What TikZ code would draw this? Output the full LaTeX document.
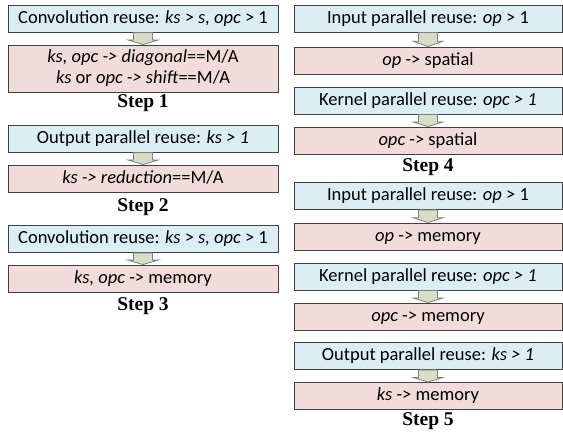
\documentclass[tikz,border=0pt]{standalone}
\usepackage{fontspec}
\setmainfont{Carlito}
\newfontfamily\stepfont{Liberation Serif}
\usetikzlibrary{calc}
\definecolor{bluefill}{HTML}{DAEEF3}
\definecolor{pinkfill}{HTML}{F2DCDB}
\definecolor{boxline}{HTML}{404040}
\definecolor{arrfill}{HTML}{D8DDC5}
\definecolor{arrline}{HTML}{7F7F7F}
\tikzset{
  box/.style={draw=boxline, line width=0.9pt, inner sep=0pt, align=center, font=\fontsize{18.5}{21}\selectfont},
  oneline/.style={text height=13pt, text depth=3.5pt, minimum height=27pt},
  condbox/.style={box, fill=bluefill},
  actbox/.style={box, fill=pinkfill},
  lcol/.style={minimum width=270pt},
  rcol/.style={minimum width=268pt},
  steplabel/.style={font=\stepfont\bfseries\fontsize{19.5}{22}\selectfont, inner sep=0pt},
  blockarrow/.style={draw=arrline, fill=arrfill, line width=0.8pt, line join=miter}
}
\newcommand{\barrow}[2]{%
  \path let \p1=(#1.south), \p2=(#2.north) in
    coordinate (ta) at (\x1,\y1)
    coordinate (tb) at (\x1,\y2);
  \draw[blockarrow] ($(ta)+(-9.5pt,0)$) -- ($(ta)+(9.5pt,0)$)
    -- ($(ta)!0.62!(tb)+(9.5pt,0)$) -- ($(ta)!0.62!(tb)+(15pt,0)$)
    -- (tb) -- ($(ta)!0.62!(tb)+(-15pt,0)$) -- ($(ta)!0.62!(tb)+(-9.5pt,0)$) -- cycle;
}
\begin{document}
\begin{tikzpicture}[x=1pt,y=-1pt]
\useasboundingbox (0,0) rectangle (563,433);
% left column
\node[condbox,lcol,oneline] (c1) at (143,18.5) {Convolution reuse: \textit{ks} > \textit{s, opc} > 1};
\node[actbox,lcol,minimum height=47pt] (a1) at (143,68.5) {\textit{ks, opc -> diagonal}==M/A\\\textit{ks} or \textit{opc -> shift}==M/A};
\node[steplabel] (s1) at (143,103.5) {Step 1};
\node[condbox,lcol,oneline] (c2) at (143,138.5) {Output parallel reuse: \textit{ks > 1}};
\node[actbox,lcol,oneline] (a2) at (143,178.5) {\textit{ks -> reduction}==M/A};
\node[steplabel] (s2) at (143,207.5) {Step 2};
\node[condbox,lcol,oneline] (c3) at (143,239) {Convolution reuse: \textit{ks} > \textit{s, opc} > 1};
\node[actbox,lcol,oneline] (a3) at (143,278.5) {\textit{ks, opc} -> memory};
\node[steplabel] (s3) at (143,306.5) {Step 3};
% right column
\node[condbox,rcol,oneline] (c4) at (428,18.5) {Input parallel reuse: \textit{op} > 1};
\node[actbox,rcol,oneline] (a4) at (428,60.5) {\textit{op} -> spatial};
\node[condbox,rcol,oneline] (c5) at (428,100.5) {Kernel parallel reuse: \textit{opc > 1}};
\node[actbox,rcol,oneline] (a5) at (428,140.5) {\textit{opc} -> spatial};
\node[steplabel] (s4) at (428,167.5) {Step 4};
\node[condbox,rcol,oneline] (c6) at (428,196) {Input parallel reuse: \textit{op} > 1};
\node[actbox,rcol,oneline] (a6) at (428,236.5) {\textit{op} -> memory};
\node[condbox,rcol,oneline] (c7) at (428,276.5) {Kernel parallel reuse: \textit{opc > 1}};
\node[actbox,rcol,oneline] (a7) at (428,316.5) {\textit{opc} -> memory};
\node[condbox,rcol,oneline] (c8) at (428,356) {Output parallel reuse: \textit{ks > 1}};
\node[actbox,rcol,oneline] (a8) at (428,396) {\textit{ks} -> memory};
\node[steplabel] (s5) at (428,421.5) {Step 5};
% arrows
\barrow{c1}{a1}
\barrow{c2}{a2}
\barrow{c3}{a3}
\barrow{c4}{a4}
\barrow{c5}{a5}
\barrow{c6}{a6}
\barrow{c7}{a7}
\barrow{c8}{a8}
\end{tikzpicture}
\end{document}
